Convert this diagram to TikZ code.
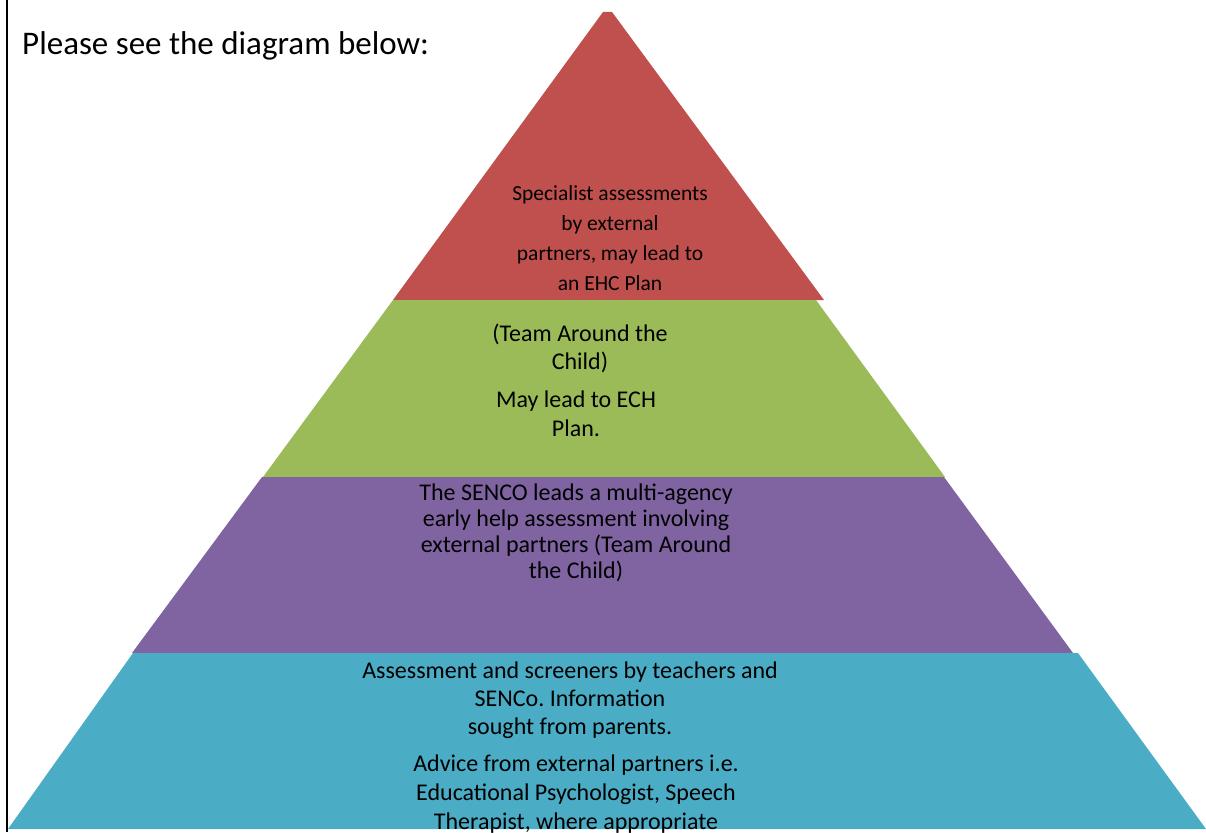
\documentclass[tikz,border=0pt]{standalone}
\usepackage{fontspec}
\setmainfont{Carlito}
\frenchspacing

\definecolor{topred}{HTML}{C0504D}
\definecolor{tiergreen}{HTML}{9BBB59}
\definecolor{tierpurple}{HTML}{8064A2}
\definecolor{tiercyan}{HTML}{4BACC6}

\begin{document}
\begin{tikzpicture}[x=1pt,y=-1pt]
% sizes of the texts
    \def\tiersize{\fontsize{21.5}{30}\selectfont}

    \useasboundingbox (0,0) rectangle (1206,832);

% left edge of the page frame
    \draw[line width=2pt] (7,0) -- (7,832);

% heading
    \node[anchor=base west, inner sep=0pt, font=\fontsize{33}{40}\selectfont] (title) at (22,55) {Please see the diagram below:};

% the four tiers of the pyramid, top to bottom
    \fill[topred] (603,12) -- (612,12) -- (824,300) -- (393,300) -- cycle;
    \fill[tiergreen] (393,300) -- (816,300) -- (945,477) -- (263,477) -- cycle;
    \fill[tierpurple] (262,477) -- (944,477) -- (1073,653) -- (132,653) -- cycle;
    \fill[tiercyan] (133,653) -- (1078,653) -- (1206,829) -- (8,829) -- cycle;

% text of the top tier
    \node[align=center, font=\tiersize] (specialist) at (610,238)
        {Specialist assessments\\by external\\partners, may lead to\\an EHC Plan};

% text of the second tier
    \node[align=center, font=\fontsize{24}{28}\selectfont] (tac) at (580,348)
        {(Team Around the\\Child)};
    \node[align=center, font=\fontsize{24}{29}\selectfont] (ehc) at (576,414)
        {May lead to ECH\\Plan.};

% text of the third tier
    \node[align=center, font=\fontsize{24}{26}\selectfont] (senco) at (576,533)
        {The SENCO leads a multi-agency\\early help assessment involving\\external partners (Team Around\\the Child)};

% text of the bottom tier
    \node[align=center, font=\fontsize{24}{28}\selectfont] (screeners) at (570,700)
        {Assessment and screeners by teachers and\\SENCo. Information\\sought from parents.};
    \node[align=center, font=\fontsize{24}{29}\selectfont] (advice) at (576,794)
        {Advice from external partners i.e.\\Educational Psychologist, Speech\\Therapist, where appropriate};

\end{tikzpicture}
\end{document}
